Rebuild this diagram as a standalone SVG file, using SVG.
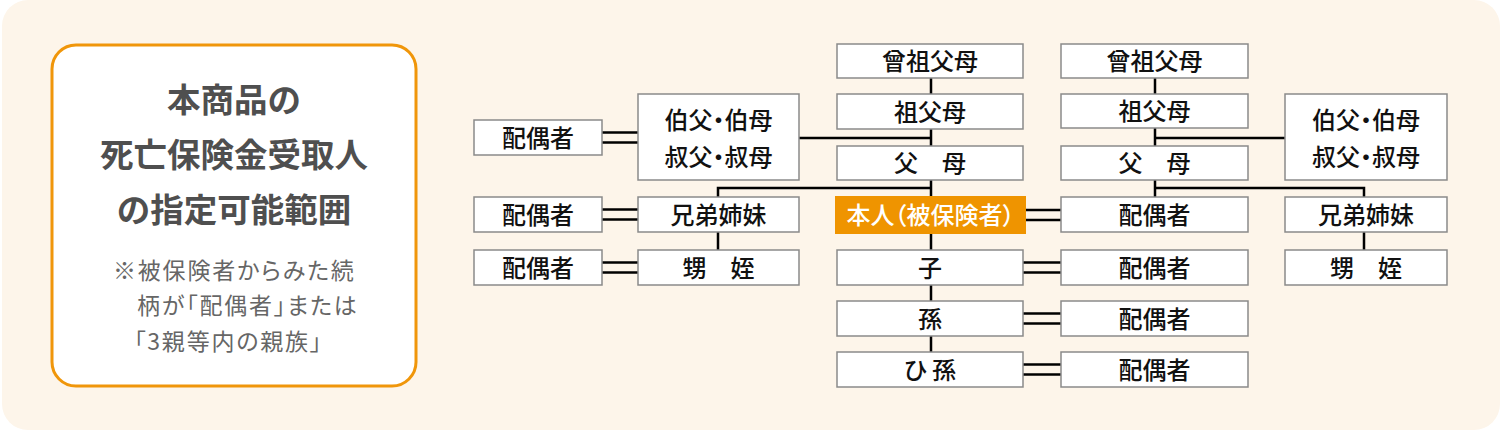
<svg xmlns="http://www.w3.org/2000/svg" width="1501" height="431" viewBox="0 0 1501 431">
<style>
.bg{fill:#fdf5ea}
.panel{fill:#fff;stroke:#f0960a;stroke-width:3}
.title{font-family:"Noto Sans CJK JP","Noto Sans CJK SC",sans-serif;font-weight:700;font-size:33.5px;fill:#4f4f4f;text-anchor:middle}
.note{font-family:"Noto Sans CJK JP","Noto Sans CJK SC",sans-serif;font-size:23px;letter-spacing:1.8px;fill:#666;font-feature-settings:"palt"}
.box{fill:#fff;stroke:#8a8a8a;stroke-width:1.5}
.self{fill:#ef9400}
.t{font-family:"Noto Sans CJK JP","Noto Sans CJK SC",sans-serif;font-size:24px;font-weight:500;fill:#111;text-anchor:middle;font-feature-settings:"palt"}
.ts{font-family:"Noto Sans CJK JP","Noto Sans CJK SC",sans-serif;font-size:24px;font-weight:500;fill:#fff;text-anchor:middle;font-feature-settings:"palt"}
.c{fill:none;stroke:#000;stroke-width:2.5}
</style>
<rect class="bg" x="2" y="0" width="1498" height="430" rx="26"/>
<g id="panel">
<rect class="panel" x="52" y="45" width="364" height="341" rx="24"/>
<text class="title" x="234" y="112">本商品の</text>
<text class="title" x="234" y="167">死亡保険金受取人</text>
<text class="title" x="234" y="222">の指定可能範囲</text>
<text class="note" x="113" y="279">※被保険者からみた続</text>
<text class="note" x="137" y="314">柄が「配偶者」または</text>
<text class="note" x="134" y="350">「3親等内の親族」</text>
</g>
<g id="connectors">
<path class="c" d="M931 78V352"/>
<path class="c" d="M1155 78V197"/>
<path class="c" d="M799 138H931"/>
<path class="c" d="M1155 138H1285"/>
<path class="c" d="M931 188H718V250"/>
<path class="c" d="M1155 188H1364V250"/>
<path class="c" d="M602 132.5H638M602 142.5H638"/>
<path class="c" d="M602 209.5H638M602 219.5H638"/>
<path class="c" d="M602 262.5H638M602 272.5H638"/>
<path class="c" d="M1026 210H1061M1026 220H1061"/>
<path class="c" d="M1023 262.5H1061M1023 272.5H1061"/>
<path class="c" d="M1023 313.5H1061M1023 323.5H1061"/>
<path class="c" d="M1023 364.5H1061M1023 374.5H1061"/>
</g>
<g id="n-great-l"><rect class="box" x="837" y="44" width="186" height="34"/><text class="t" x="930" y="70">曾祖父母</text></g>
<g id="n-grand-l"><rect class="box" x="837" y="94" width="186" height="35"/><text class="t" x="930" y="120.5">祖父母</text></g>
<g id="n-parent-l"><rect class="box" x="837" y="146" width="186" height="34"/><text class="t" x="930" y="172">父　母</text></g>
<g id="n-great-r"><rect class="box" x="1061" y="44" width="187" height="34"/><text class="t" x="1154.5" y="70">曾祖父母</text></g>
<g id="n-grand-r"><rect class="box" x="1061" y="94" width="187" height="34"/><text class="t" x="1154.5" y="120">祖父母</text></g>
<g id="n-parent-r"><rect class="box" x="1061" y="146" width="187" height="34"/><text class="t" x="1154.5" y="172">父　母</text></g>
<g id="n-uncle-l"><rect class="box" x="638" y="94" width="161" height="86"/><text class="t" x="718.5" y="129">伯父・伯母</text><text class="t" x="718.5" y="166">叔父・叔母</text></g>
<g id="n-uncle-r"><rect class="box" x="1285" y="94" width="162" height="86"/><text class="t" x="1366" y="129">伯父・伯母</text><text class="t" x="1366" y="166">叔父・叔母</text></g>
<g id="n-sp-uncle"><rect class="box" x="474" y="120" width="128" height="35"/><text class="t" x="538" y="146.5">配偶者</text></g>
<g id="n-self"><rect class="self" x="835" y="196" width="191" height="38"/><text class="ts" x="930.5" y="224">本人（被保険者）</text></g>
<g id="n-sp-self"><rect class="box" x="1061" y="197" width="187" height="35"/><text class="t" x="1154.5" y="223.5">配偶者</text></g>
<g id="n-sib-l"><rect class="box" x="638" y="197" width="161" height="35"/><text class="t" x="718.5" y="223.5">兄弟姉妹</text></g>
<g id="n-sp-sib"><rect class="box" x="474" y="197" width="128" height="35"/><text class="t" x="538" y="223.5">配偶者</text></g>
<g id="n-sib-r"><rect class="box" x="1285" y="197" width="162" height="35"/><text class="t" x="1366" y="223.5">兄弟姉妹</text></g>
<g id="n-niece-l"><rect class="box" x="638" y="250" width="161" height="35"/><text class="t" x="718.5" y="276.5">甥　姪</text></g>
<g id="n-sp-niece"><rect class="box" x="474" y="250" width="128" height="35"/><text class="t" x="538" y="276.5">配偶者</text></g>
<g id="n-niece-r"><rect class="box" x="1285" y="250" width="162" height="35"/><text class="t" x="1366" y="276.5">甥　姪</text></g>
<g id="n-child"><rect class="box" x="837" y="250" width="186" height="35"/><text class="t" x="930" y="276.5">子</text></g>
<g id="n-sp-child"><rect class="box" x="1061" y="250" width="187" height="35"/><text class="t" x="1154.5" y="276.5">配偶者</text></g>
<g id="n-grandchild"><rect class="box" x="837" y="301" width="186" height="35"/><text class="t" x="930" y="327.5">孫</text></g>
<g id="n-sp-grandchild"><rect class="box" x="1061" y="301" width="187" height="35"/><text class="t" x="1154.5" y="327.5">配偶者</text></g>
<g id="n-ggchild"><rect class="box" x="837" y="352" width="186" height="35"/><text class="t" x="930" y="378.5">ひ 孫</text></g>
<g id="n-sp-ggchild"><rect class="box" x="1061" y="352" width="187" height="35"/><text class="t" x="1154.5" y="378.5">配偶者</text></g>
</svg>
